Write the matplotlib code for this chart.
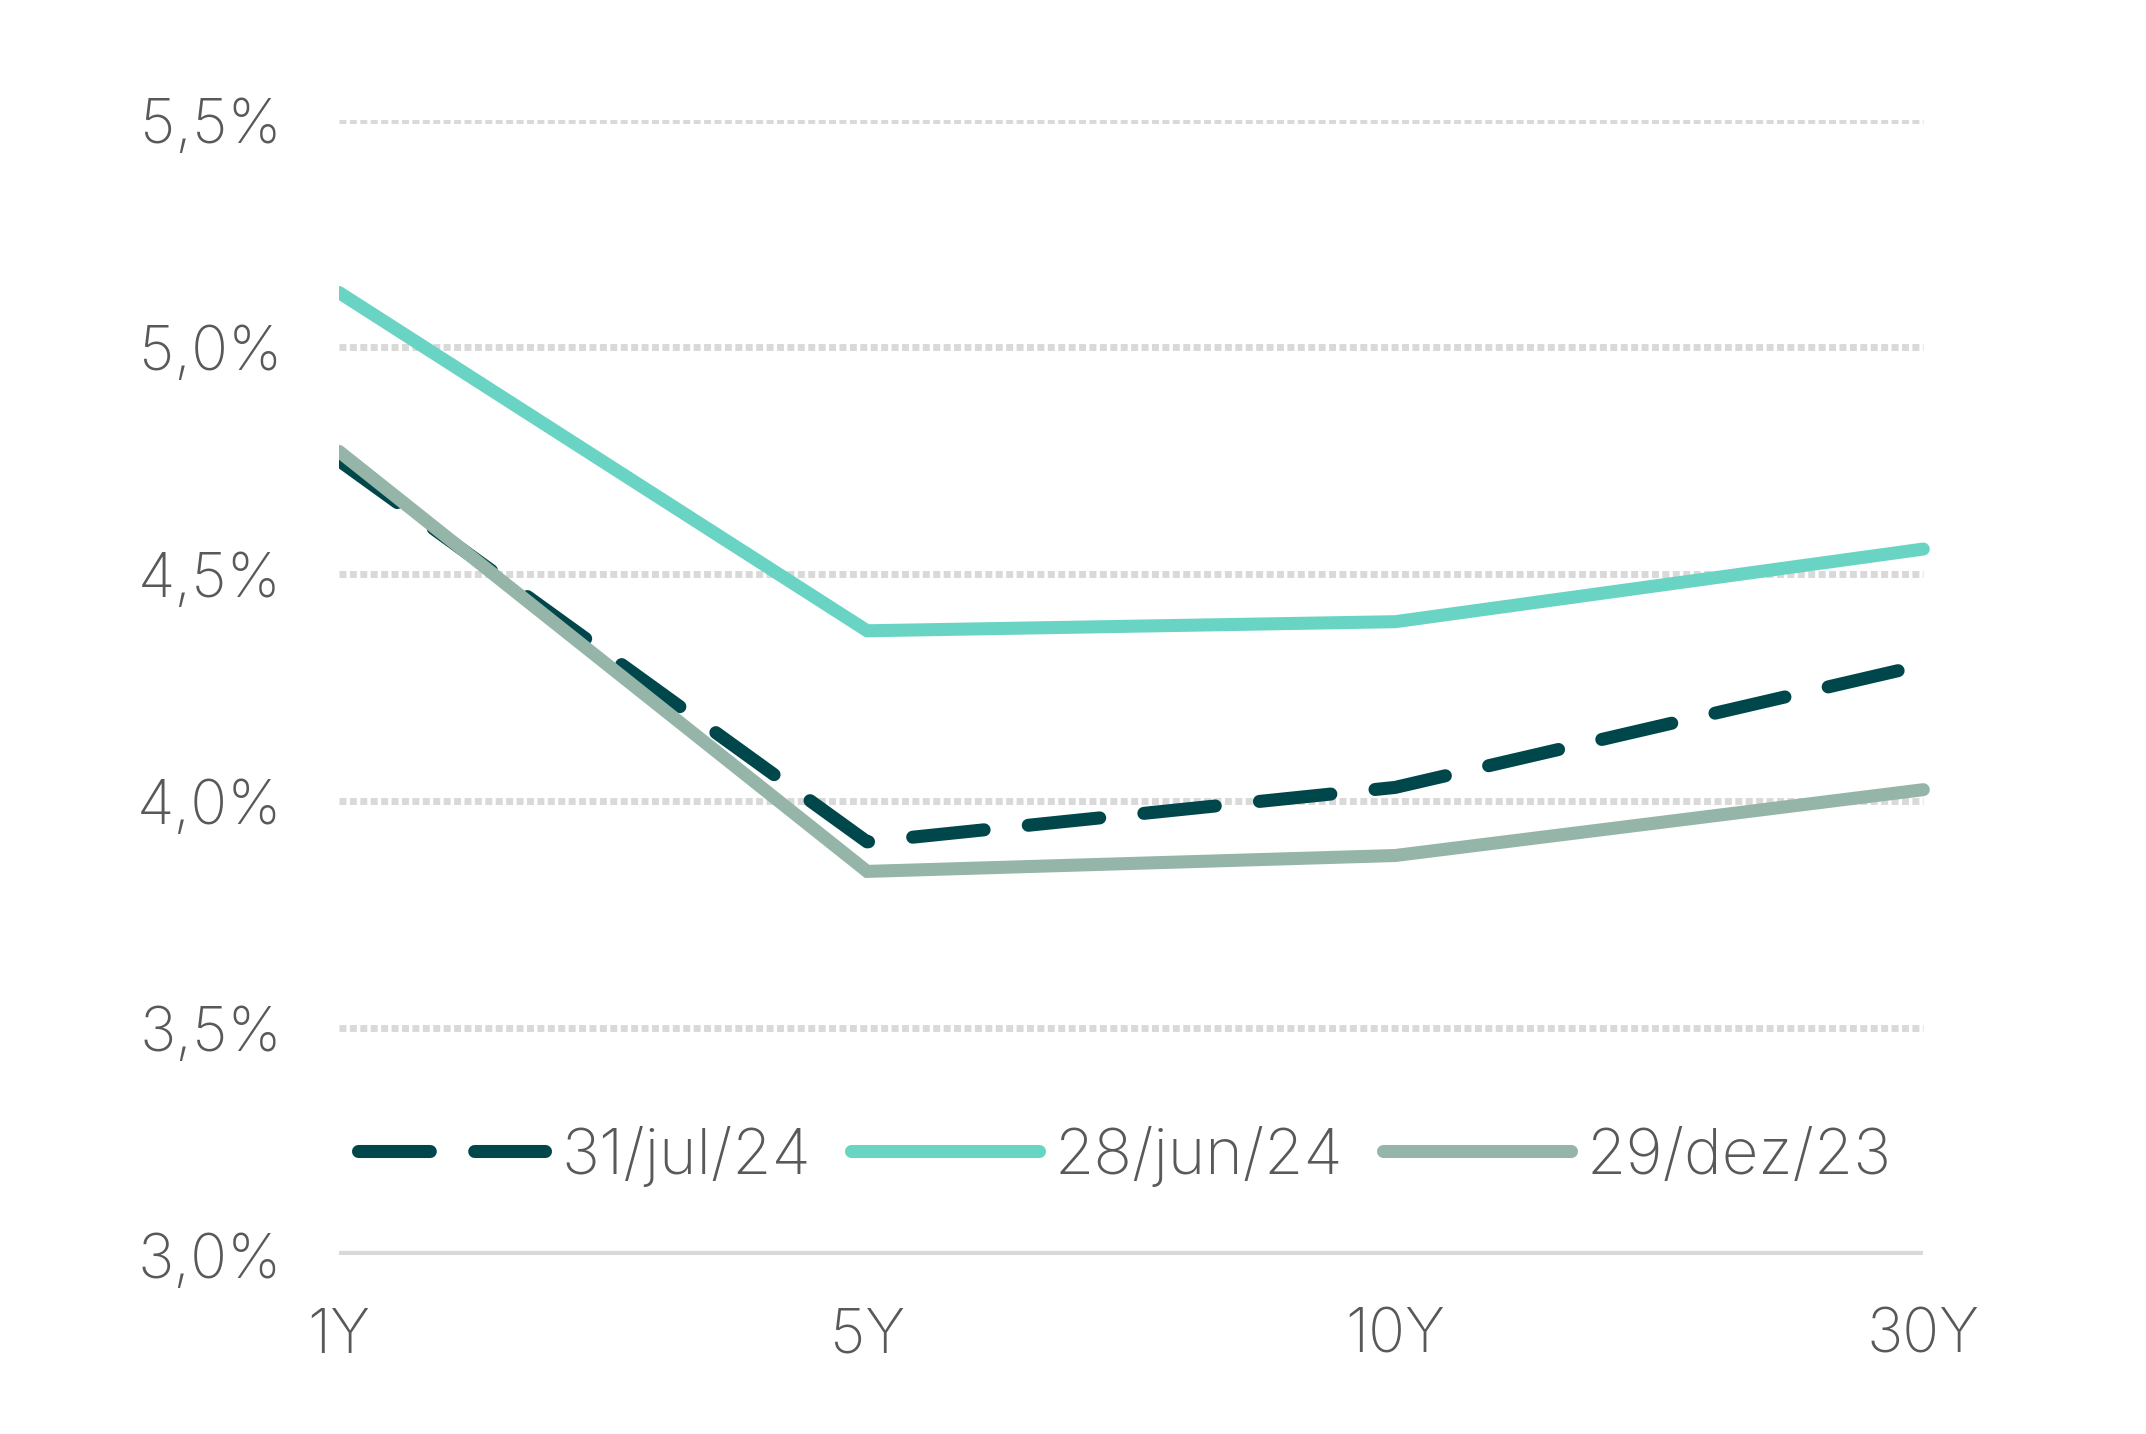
import matplotlib
matplotlib.use("Agg")
from matplotlib import pyplot as plt

# prazos e curvas de juros
prazos = ["1Y", "5Y", "10Y", "30Y"]
jul24 = [4.75, 3.91, 4.03, 4.30]
jun24 = [5.12, 4.375, 4.395, 4.555]
dez23 = [4.77, 3.845, 3.88, 4.025]
y_ticks = [3.0, 3.5, 4.0, 4.5, 5.0, 5.5]
y_labels = ["3,0%", "3,5%", "4,0%", "4,5%", "5,0%", "5,5%"]

c_dark = "#00474B"
c_teal = "#6AD4C4"
c_gray = "#96B5A9"
c_text = "#595959"

plt.rcParams["font.family"] = ["Inter", "DejaVu Sans"]

fig = plt.figure(figsize=(21.46, 14.34), dpi=100)
ax = fig.add_axes([0.158, 0.1248, 0.7456, 0.7915])

x = list(range(len(prazos)))

# grade pontilhada
for v in y_ticks[1:]:
    ax.hlines(v, 0, 3, colors="#D9D9D9", lw=5, linestyles=(0, (1, 0.5)), zorder=1)
ax.hlines(3.0, 0, 3, colors="#D9D9D9", lw=6, zorder=1)

lw = 9.4
ax.plot(x, jul24, color=c_dark, lw=lw, ls=(0, (5.5, 3.4)), dash_capstyle="round",
        solid_joinstyle="miter", label="31/jul/24", zorder=3)
ax.plot(x, jun24, color=c_teal, lw=lw, solid_capstyle="round", solid_joinstyle="miter",
        label="28/jun/24", zorder=3)
ax.plot(x, dez23, color=c_gray, lw=lw, solid_capstyle="round", solid_joinstyle="miter",
        label="29/dez/23", zorder=4)

ax.set_xlim(0, 3.03)
ax.set_ylim(3.0, 5.5)
ax.set_xticks(x)
ax.set_xticklabels(prazos)
ax.set_yticks(y_ticks)
ax.set_yticklabels(y_labels)
ax.tick_params(length=0, labelsize=44, labelcolor=c_text, pad=41)
ax.tick_params(axis="x", pad=38)
for t in ax.get_xticklabels() + ax.get_yticklabels():
    t.set_fontweight("light")
for s in ax.spines.values():
    s.set_visible(False)

leg = ax.legend(loc="center left", bbox_to_anchor=(-0.004, 0.087), ncol=3, frameon=False,
                fontsize=46, handlelength=2.93, handletextpad=0.25, columnspacing=0.63,
                borderaxespad=0)
for t in leg.get_texts():
    t.set_color(c_text)
    t.set_fontweight("light")

fig.savefig("out.png", dpi=100, facecolor="white")
